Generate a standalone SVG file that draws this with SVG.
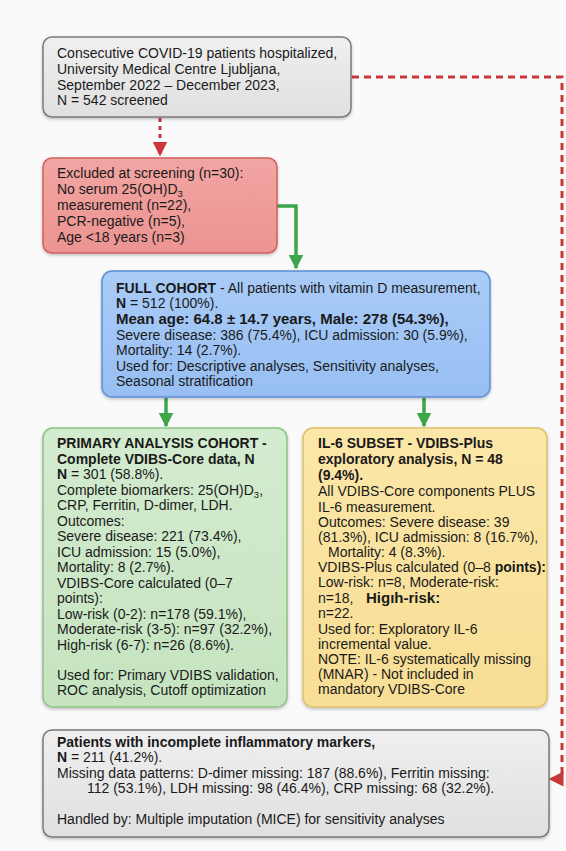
<svg xmlns="http://www.w3.org/2000/svg" width="566" height="851" viewBox="0 0 566 851">
<defs>
<style>
text{font-family:"Liberation Sans",Arial,sans-serif;font-size:14px;fill:#1a1a1a}
.b{font-weight:bold}
.box{stroke-width:1.5}
.g{stroke:#3ea64a;stroke-width:3.5;fill:none}
.r{stroke:#c8373a;stroke-width:3;fill:none}
.sub{font-size:9.5px}
.big{font-size:15px}
</style>
<linearGradient id="gGray" x1="0" y1="0" x2="0" y2="1"><stop offset="0" stop-color="#efefef"/><stop offset="1" stop-color="#e0e0e0"/></linearGradient>
<linearGradient id="gRed" x1="0" y1="0" x2="0" y2="1"><stop offset="0" stop-color="#f2a5a3"/><stop offset="1" stop-color="#ec9491"/></linearGradient>
<linearGradient id="gBlue" x1="0" y1="0" x2="0" y2="1"><stop offset="0" stop-color="#a9cbf7"/><stop offset="1" stop-color="#98bff3"/></linearGradient>
<linearGradient id="gGreen" x1="0" y1="0" x2="0" y2="1"><stop offset="0" stop-color="#d3ebcf"/><stop offset="1" stop-color="#c6e4c0"/></linearGradient>
<linearGradient id="gYellow" x1="0" y1="0" x2="0" y2="1"><stop offset="0" stop-color="#fbe7a8"/><stop offset="1" stop-color="#f8de95"/></linearGradient>
<filter id="sh" x="-5%" y="-5%" width="110%" height="115%"><feDropShadow dx="0" dy="1.5" stdDeviation="1.5" flood-color="#000" flood-opacity="0.25"/></filter>
<marker id="ag" viewBox="0 0 10 10" refX="9" refY="5" markerWidth="4.2" markerHeight="4.2" orient="auto" markerUnits="strokeWidth"><path d="M0,0 L10,5 L0,10 z" fill="#3ea64a"/></marker>
<marker id="ar" viewBox="0 0 10 10" refX="9" refY="5" markerWidth="5" markerHeight="5" orient="auto" markerUnits="strokeWidth"><path d="M0,0 L10,5 L0,10 z" fill="#c8373a"/></marker>
</defs>
<rect width="566" height="851" fill="#fafafa"/>

<g id="connectors">
<path class="r" d="M160,118 V155" stroke-dasharray="4,4" marker-end="url(#ar)"/>
<path class="r" d="M352,77 H562 V779 H550" stroke-dasharray="7,5" marker-end="url(#ar)"/>
<path class="g" d="M277,206 H296 V268" marker-end="url(#ag)"/>
<path class="g" d="M166,398 V426" marker-end="url(#ag)"/>
<path class="g" d="M424,398 V426" marker-end="url(#ag)"/>
</g>

<g id="screened">
<rect class="box" x="43" y="37" width="308" height="80" rx="9" fill="url(#gGray)" stroke="#7a7a7a" filter="url(#sh)"/>
<text x="57" y="58">Consecutive COVID-19 patients hospitalized,</text>
<text x="57" y="74">University Medical Centre Ljubljana,</text>
<text x="57" y="90">September 2022 – December 2023,</text>
<text x="57" y="105">N = 542 screened</text>
</g>

<g id="excluded">
<rect class="box" x="43" y="158" width="234" height="95" rx="9" fill="url(#gRed)" stroke="#d0605e" filter="url(#sh)"/>
<text x="57" y="178">Excluded at screening (n=30):</text>
<text x="57" y="194">No serum 25(OH)D<tspan class="sub" dy="2.5">3</tspan></text>
<text x="57" y="210">measurement (n=22),</text>
<text x="57" y="226">PCR-negative (n=5),</text>
<text x="57" y="242">Age &lt;18 years (n=3)</text>
</g>

<g id="full-cohort">
<rect class="box" x="102" y="271" width="388" height="126" rx="10" fill="url(#gBlue)" stroke="#5b8fd6" filter="url(#sh)"/>
<text x="116" y="293"><tspan class="b">FULL COHORT</tspan> - All patients with vitamin D measurement,</text>
<text x="116" y="308"><tspan class="b">N</tspan> = 512 (100%).</text>
<text x="116" y="324" class="b big">Mean age: 64.8 ± 14.7 years, Male: 278 (54.3%),</text>
<text x="116" y="340">Severe disease: 386 (75.4%), ICU admission: 30 (5.9%),</text>
<text x="116" y="355">Mortality: 14 (2.7%).</text>
<text x="116" y="371">Used for: Descriptive analyses, Sensitivity analyses,</text>
<text x="116" y="386">Seasonal stratification</text>
</g>

<g id="primary-cohort">
<rect class="box" x="43" y="428" width="244" height="279" rx="10" fill="url(#gGreen)" stroke="#8cc484" filter="url(#sh)"/>
<text x="57" y="448" class="b">PRIMARY ANALYSIS COHORT -</text>
<text x="57" y="464" class="b">Complete VDIBS-Core data, N</text>
<text x="57" y="479"><tspan class="b">N</tspan> = 301 (58.8%).</text>
<text x="57" y="495">Complete biomarkers: 25(OH)D<tspan class="sub" dy="2.5">3</tspan><tspan dy="-2.5">,</tspan></text>
<text x="57" y="510">CRP, Ferritin, D-dimer, LDH.</text>
<text x="57" y="526">Outcomes:</text>
<text x="57" y="541">Severe disease: 221 (73.4%),</text>
<text x="57" y="557">ICU admission: 15 (5.0%),</text>
<text x="57" y="572">Mortality: 8 (2.7%).</text>
<text x="57" y="588">VDIBS-Core calculated (0–7</text>
<text x="57" y="603">points):</text>
<text x="57" y="619">Low-risk (0-2): n=178 (59.1%),</text>
<text x="57" y="634">Moderate-risk (3-5): n=97 (32.2%),</text>
<text x="57" y="650">High-risk (6-7): n=26 (8.6%).</text>
<text x="57" y="680">Used for: Primary VDIBS validation,</text>
<text x="57" y="695">ROC analysis, Cutoff optimization</text>
</g>

<g id="il6-subset">
<rect class="box" x="303" y="428" width="244" height="279" rx="10" fill="url(#gYellow)" stroke="#e0c068" filter="url(#sh)"/>
<text x="318" y="448" class="b">IL-6 SUBSET - VDIBS-Plus</text>
<text x="318" y="464" class="b">exploratory analysis, N = 48</text>
<text x="318" y="480" class="b">(9.4%).</text>
<text x="318" y="496">All VDIBS-Core components PLUS</text>
<text x="318" y="512">IL-6 measurement.</text>
<text x="318" y="527">Outcomes: Severe disease: 39</text>
<text x="318" y="542">(81.3%), ICU admission: 8 (16.7%),</text>
<text x="328" y="557">Mortality: 4 (8.3%).</text>
<text x="318" y="572">VDIBS-Plus calculated (0–8 <tspan class="b">points):</tspan></text>
<text x="318" y="587">Low-risk: n=8, Moderate-risk:</text>
<text x="318" y="603">n=18, <tspan class="b big" x="366">Higıh-risk:</tspan></text>
<text x="318" y="618">n=22.</text>
<text x="318" y="634">Used for: Exploratory IL-6</text>
<text x="318" y="649">incremental value.</text>
<text x="318" y="664">NOTE: IL-6 systematically missing</text>
<text x="318" y="679">(MNAR) - Not included in</text>
<text x="318" y="694">mandatory VDIBS-Core</text>
</g>

<g id="incomplete">
<rect class="box" x="43" y="730" width="506" height="107" rx="9" fill="url(#gGray)" stroke="#7a7a7a" filter="url(#sh)"/>
<text x="57" y="747" class="b">Patients with incomplete inflammatory markers,</text>
<text x="57" y="762"><tspan class="b">N</tspan> = 211 (41.2%).</text>
<text x="57" y="778">Missing data patterns: D-dimer missing: 187 (88.6%), Ferritin missing:</text>
<text x="87" y="793">112 (53.1%), LDH missing: 98 (46.4%), CRP missing: 68 (32.2%).</text>
<text x="57" y="824">Handled by: Multiple imputation (MICE) for sensitivity analyses</text>
</g>
</svg>
